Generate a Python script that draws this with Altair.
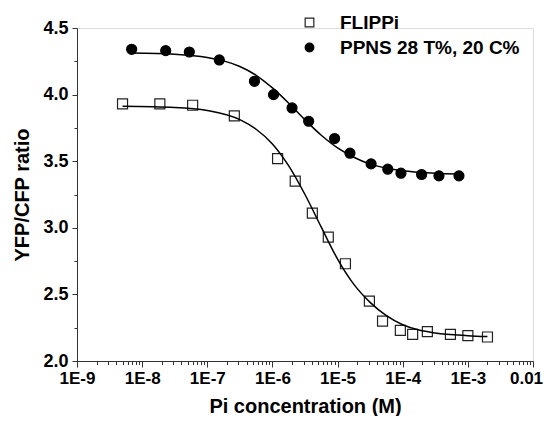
import altair as alt
import pandas as pd

series_names = ["FLIPPi", "PPNS 28 T%, 20 C%"]

# measured points
flippi_conc = [5.0e-9, 1.87e-8, 5.96e-8, 2.6e-7, 1.2e-6, 2.24e-6, 4.1e-6, 7.2e-6,
               1.32e-5, 3.08e-5, 4.9e-5, 9.2e-5, 1.42e-4, 2.39e-4, 5.4e-4, 1.0e-3, 2.0e-3]
flippi_ratio = [3.93, 3.93, 3.92, 3.84, 3.52, 3.35, 3.11, 2.93,
                2.73, 2.45, 2.30, 2.23, 2.20, 2.22, 2.20, 2.19, 2.18]

ppns_conc = [6.9e-9, 2.3e-8, 5.3e-8, 1.53e-7, 5.3e-7, 1.04e-6, 2.0e-6, 3.6e-6,
             9.0e-6, 1.55e-5, 3.27e-5, 5.9e-5, 9.4e-5, 1.95e-4, 3.6e-4, 7.3e-4]
ppns_ratio = [4.34, 4.33, 4.32, 4.26, 4.10, 4.00, 3.90, 3.80,
              3.67, 3.56, 3.48, 3.44, 3.41, 3.40, 3.39, 3.39]

# fitted curves
flippi_fit_conc = [5.0e-9, 3.16e-8, 1.0e-7, 3.16e-7, 5.62e-7, 1.0e-6, 1.78e-6, 3.16e-6,
                   5.62e-6, 1.0e-5, 1.78e-5, 3.16e-5, 5.62e-5, 1.0e-4, 1.78e-4, 3.16e-4,
                   1.0e-3, 2.0e-3]
flippi_fit_ratio = [3.913, 3.904, 3.881, 3.812, 3.740, 3.630, 3.465, 3.250,
                    3.005, 2.765, 2.575, 2.440, 2.340, 2.272, 2.232, 2.210,
                    2.190, 2.183]

ppns_fit_conc = [6.9e-9, 3.16e-8, 1.0e-7, 1.78e-7, 3.16e-7, 5.62e-7, 1.0e-6, 1.78e-6,
                 3.16e-6, 5.62e-6, 1.0e-5, 1.78e-5, 3.16e-5, 5.62e-5, 1.0e-4, 3.16e-4,
                 7.3e-4]
ppns_fit_ratio = [4.312, 4.303, 4.279, 4.253, 4.211, 4.145, 4.050, 3.935,
                  3.810, 3.695, 3.600, 3.530, 3.478, 3.448, 3.428, 3.410,
                  3.404]

x_major = [1e-9, 1e-8, 1e-7, 1e-6, 1e-5, 1e-4, 1e-3, 1e-2]
x_minor_mult = [2, 3, 4, 5, 6, 7, 8, 9]
y_ticks = [2.0, 2.25, 2.5, 2.75, 3.0, 3.25, 3.5, 3.75, 4.0, 4.25, 4.5]

x_ticks = x_major + [m * d for d in x_major[:-1] for m in x_minor_mult]

points = pd.DataFrame({
    "conc": flippi_conc + ppns_conc,
    "ratio": flippi_ratio + ppns_ratio,
    "series": [series_names[0]] * len(flippi_conc) + [series_names[1]] * len(ppns_conc),
})
fits = pd.DataFrame({
    "conc": flippi_fit_conc + ppns_fit_conc,
    "ratio": flippi_fit_ratio + ppns_fit_ratio,
    "series": [series_names[0]] * len(flippi_fit_conc) + [series_names[1]] * len(ppns_fit_conc),
})

FONT = "Liberation Sans, Arial, Helvetica, sans-serif"
AX = "#333333"

x_major_test = "abs(log(datum.value)/LN10 - round(log(datum.value)/LN10)) < 0.000001"
y_major_test = "datum.value*2 == round(datum.value*2)"

x_scale = alt.Scale(type="log", domain=[1e-9, 1e-2], nice=False)
y_scale = alt.Scale(domain=[2.0, 4.5], nice=False, zero=False)

x_axis = alt.Axis(
    values=x_ticks,
    labelExpr=f"{x_major_test} ? (datum.value > 0.005 ? '0.01' : '1E' + round(log(datum.value)/LN10)) : ''",
    title="Pi concentration (M)",
    grid=False,
    labelOverlap=False,
    labelFlush=False,
    labelFont=FONT, labelFontSize=17, labelFontWeight="bold", labelColor="black",
    labelOffset={"condition": {"test": "datum.value > 0.005", "value": -7}, "value": 0},
    titleFont=FONT, titleFontSize=20, titleFontWeight="bold", titleColor="black",
    domainColor=AX, tickColor=AX, domainWidth=1, tickWidth=1,
    tickSize={"condition": {"test": x_major_test, "value": 6}, "value": 3.5},
    labelPadding=3, titlePadding=10,
)
y_axis = alt.Axis(
    values=y_ticks,
    labelExpr=f"{y_major_test} ? format(datum.value, '.1f') : ''",
    title="YFP/CFP ratio",
    grid=False,
    labelOverlap=False,
    labelFlush=False,
    labelFont=FONT, labelFontSize=18, labelFontWeight="bold", labelColor="black",
    titleFont=FONT, titleFontSize=20, titleFontWeight="bold", titleColor="black",
    domainColor=AX, tickColor=AX, domainWidth=1, tickWidth=1,
    tickSize={"condition": {"test": y_major_test, "value": 5}, "value": 3},
    labelPadding=4, titlePadding=10,
)

legend = alt.Legend(
    title=None, orient="none", legendX=223, legendY=-15,
    labelFont=FONT, labelFontSize=19, labelFontWeight="bold", labelColor="black",
    labelLimit=0,
    symbolSize=75, symbolStrokeWidth=1.2, symbolStrokeColor="black",
    labelOffset=21, rowPadding=5, padding=0,
)

pts = alt.Chart(points).mark_point(filled=True, strokeWidth=1.2, size=100, opacity=1).encode(
    x=alt.X("conc:Q", scale=x_scale, axis=x_axis),
    y=alt.Y("ratio:Q", scale=y_scale, axis=y_axis),
    shape=alt.Shape("series:N", scale=alt.Scale(domain=series_names, range=["square", "circle"]), legend=legend),
    fill=alt.Fill("series:N", scale=alt.Scale(domain=series_names, range=["transparent", "black"]), legend=legend),
    stroke=alt.Stroke("series:N", scale=alt.Scale(domain=series_names, range=["#222222", "black"]), legend=legend),
)

lines = alt.Chart(fits).mark_line(color="black", strokeWidth=1.5, interpolate="monotone").encode(
    x=alt.X("conc:Q", scale=x_scale, axis=x_axis),
    y=alt.Y("ratio:Q", scale=y_scale, axis=y_axis),
    detail="series:N",
)

chart = alt.layer(pts, lines).properties(
    width=456, height=333,
    autosize=alt.AutoSizeParams(type="none"),
    padding={"left": 69, "top": 20, "right": 10, "bottom": 55},
).configure_view(stroke="transparent").configure(background="white")

chart.save("out.html", embed_options={"renderer": "svg", "actions": False})
